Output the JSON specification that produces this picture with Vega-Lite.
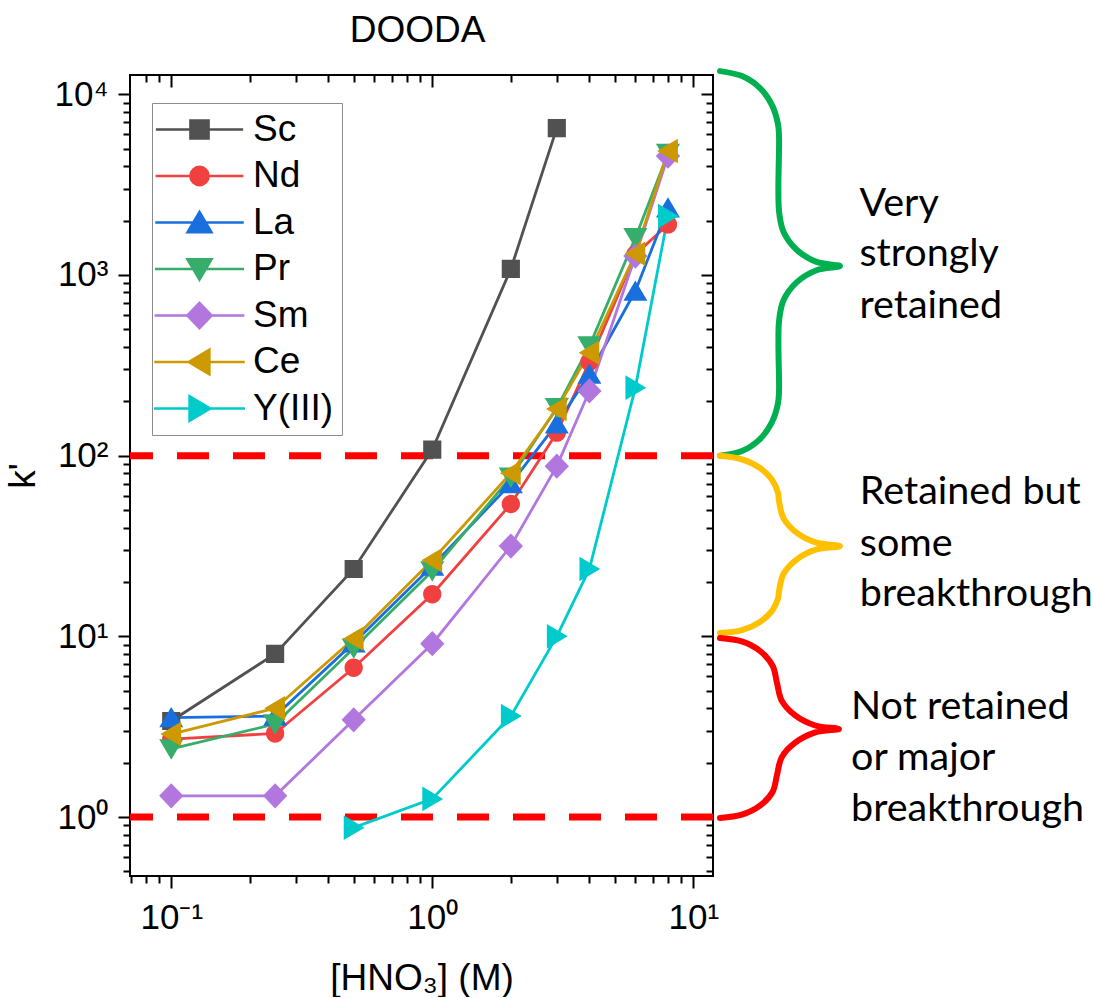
{
  "$schema": "https://vega.github.io/schema/vega-lite/v6.json",
  "background": "white",
  "padding": {"left": 3, "top": 11, "right": 0, "bottom": 0},
  "spacing": -11,
  "datasets": {
    "kdata": [
      {"s": "Sc", "x": 0.1, "k": 3.4}, {"s": "Sc", "x": 0.25, "k": 8.0}, {"s": "Sc", "x": 0.5, "k": 23.6}, {"s": "Sc", "x": 1, "k": 108}, {"s": "Sc", "x": 2, "k": 1080}, {"s": "Sc", "x": 3, "k": 6500},
      {"s": "Nd", "x": 0.1, "k": 2.7}, {"s": "Nd", "x": 0.25, "k": 2.9}, {"s": "Nd", "x": 0.5, "k": 6.7}, {"s": "Nd", "x": 1, "k": 17.1}, {"s": "Nd", "x": 2, "k": 54}, {"s": "Nd", "x": 3, "k": 134}, {"s": "Nd", "x": 4, "k": 330}, {"s": "Nd", "x": 6, "k": 1300}, {"s": "Nd", "x": 8, "k": 1905},
      {"s": "La", "x": 0.1, "k": 3.55}, {"s": "La", "x": 0.25, "k": 3.62}, {"s": "La", "x": 0.5, "k": 9.2}, {"s": "La", "x": 1, "k": 24.5}, {"s": "La", "x": 2, "k": 70}, {"s": "La", "x": 3, "k": 150}, {"s": "La", "x": 4, "k": 283}, {"s": "La", "x": 6, "k": 815}, {"s": "La", "x": 8, "k": 2355},
      {"s": "Pr", "x": 0.1, "k": 2.38}, {"s": "Pr", "x": 0.25, "k": 3.27}, {"s": "Pr", "x": 0.5, "k": 8.6}, {"s": "Pr", "x": 1, "k": 23}, {"s": "Pr", "x": 2, "k": 76}, {"s": "Pr", "x": 3, "k": 184}, {"s": "Pr", "x": 4, "k": 404}, {"s": "Pr", "x": 6, "k": 1607}, {"s": "Pr", "x": 8, "k": 4700},
      {"s": "Sm", "x": 0.1, "k": 1.31}, {"s": "Sm", "x": 0.25, "k": 1.31}, {"s": "Sm", "x": 0.5, "k": 3.45}, {"s": "Sm", "x": 1, "k": 9.1}, {"s": "Sm", "x": 2, "k": 31.6}, {"s": "Sm", "x": 3, "k": 87.5}, {"s": "Sm", "x": 4, "k": 228}, {"s": "Sm", "x": 6, "k": 1273}, {"s": "Sm", "x": 8, "k": 4550},
      {"s": "Ce", "x": 0.1, "k": 2.88}, {"s": "Ce", "x": 0.25, "k": 4.0}, {"s": "Ce", "x": 0.5, "k": 9.7}, {"s": "Ce", "x": 1, "k": 26.4}, {"s": "Ce", "x": 2, "k": 80}, {"s": "Ce", "x": 3, "k": 181}, {"s": "Ce", "x": 4, "k": 371}, {"s": "Ce", "x": 6, "k": 1310}, {"s": "Ce", "x": 8, "k": 4850},
      {"s": "Y(III)", "x": 0.5, "k": 0.873}, {"s": "Y(III)", "x": 1, "k": 1.26}, {"s": "Y(III)", "x": 2, "k": 3.62}, {"s": "Y(III)", "x": 3, "k": 10}, {"s": "Y(III)", "x": 4, "k": 23.6}, {"s": "Y(III)", "x": 6, "k": 238}, {"s": "Y(III)", "x": 8, "k": 2118}
    ],
    "thr": [{"k": 100}, {"k": 1}],
    "one": [{"x": 1, "k": 1}],
    "brace": [
      {"g": "a", "i": 0, "bx": 0, "by": 13440}, {"g": "a", "i": 1, "bx": 5.77, "by": 12610}, {"g": "a", "i": 2, "bx": 10.5, "by": 10820}, {"g": "a", "i": 3, "bx": 13.65, "by": 8714}, {"g": "a", "i": 4, "bx": 15.22, "by": 6841}, {"g": "a", "i": 5, "bx": 15.49, "by": 5870}, {"g": "a", "i": 6, "bx": 15.49, "by": 2257}, {"g": "a", "i": 7, "bx": 16.69, "by": 1728}, {"g": "a", "i": 8, "bx": 20.18, "by": 1375}, {"g": "a", "i": 9, "bx": 25.35, "by": 1182}, {"g": "a", "i": 10, "bx": 31.5, "by": 1120}, {"g": "a", "i": 11, "bx": 25.35, "by": 1062}, {"g": "a", "i": 12, "bx": 20.18, "by": 912.7}, {"g": "a", "i": 13, "bx": 16.69, "by": 726.3}, {"g": "a", "i": 14, "bx": 15.49, "by": 555.7}, {"g": "a", "i": 15, "bx": 15.49, "by": 227.8}, {"g": "a", "i": 16, "bx": 15.22, "by": 195.5}, {"g": "a", "i": 17, "bx": 13.65, "by": 153.5}, {"g": "a", "i": 18, "bx": 10.5, "by": 123.6}, {"g": "a", "i": 19, "bx": 5.77, "by": 106.1}, {"g": "a", "i": 20, "bx": 0, "by": 100},
      {"g": "b", "i": 0, "bx": 0, "by": 100}, {"g": "b", "i": 1, "bx": 5.77, "by": 95.5}, {"g": "b", "i": 2, "bx": 10.5, "by": 85.5}, {"g": "b", "i": 3, "bx": 13.65, "by": 73.5}, {"g": "b", "i": 4, "bx": 15.22, "by": 62.3}, {"g": "b", "i": 5, "bx": 15.49, "by": 56.1}, {"g": "b", "i": 6, "bx": 16.69, "by": 45.0}, {"g": "b", "i": 7, "bx": 20.18, "by": 37.4}, {"g": "b", "i": 8, "bx": 25.35, "by": 33.0}, {"g": "b", "i": 9, "bx": 31.5, "by": 31.6}, {"g": "b", "i": 10, "bx": 25.35, "by": 30.3}, {"g": "b", "i": 11, "bx": 20.18, "by": 26.7}, {"g": "b", "i": 12, "bx": 16.69, "by": 22.2}, {"g": "b", "i": 13, "bx": 15.49, "by": 17.8}, {"g": "b", "i": 14, "bx": 15.22, "by": 16.15}, {"g": "b", "i": 15, "bx": 13.65, "by": 13.84}, {"g": "b", "i": 16, "bx": 10.5, "by": 12.02}, {"g": "b", "i": 17, "bx": 5.77, "by": 10.83}, {"g": "b", "i": 18, "bx": 0, "by": 10.43},
      {"g": "c", "i": 0, "bx": 0, "by": 9.79}, {"g": "c", "i": 1, "bx": 5.72, "by": 9.37}, {"g": "c", "i": 2, "bx": 10.58, "by": 8.27}, {"g": "c", "i": 3, "bx": 13.83, "by": 6.87}, {"g": "c", "i": 4, "bx": 14.96, "by": 5.51}, {"g": "c", "i": 5, "bx": 16.19, "by": 4.41}, {"g": "c", "i": 6, "bx": 19.74, "by": 3.65}, {"g": "c", "i": 7, "bx": 25.01, "by": 3.21}, {"g": "c", "i": 8, "bx": 31.23, "by": 3.07}, {"g": "c", "i": 9, "bx": 25.01, "by": 2.94}, {"g": "c", "i": 10, "bx": 19.74, "by": 2.58}, {"g": "c", "i": 11, "bx": 16.19, "by": 2.14}, {"g": "c", "i": 12, "bx": 14.96, "by": 1.71}, {"g": "c", "i": 13, "bx": 13.83, "by": 1.38}, {"g": "c", "i": 14, "bx": 10.58, "by": 1.16}, {"g": "c", "i": 15, "bx": 5.72, "by": 1.03}, {"g": "c", "i": 16, "bx": 0, "by": 0.987}
    ],
    "notes": [
      {"t": "Very", "tx": 36.6, "ty": 2118}, {"t": "strongly", "tx": 36.6, "ty": 1120}, {"t": "retained", "tx": 36.6, "ty": 577},
      {"t": "Retained but", "tx": 36.7, "ty": 54.0}, {"t": "some", "tx": 36.7, "ty": 27.8}, {"t": "breakthrough", "tx": 36.7, "ty": 14.7},
      {"t": "Not retained", "tx": 34.4, "ty": 3.49}, {"t": "or major", "tx": 34.4, "ty": 1.82}, {"t": "breakthrough", "tx": 34.4, "ty": 0.95}
    ]
  },
  "hconcat": [
    {
      "width": 583,
      "height": 801,
      "title": {"text": "DOODA", "font": "Liberation Sans", "fontSize": 37, "fontWeight": "normal", "color": "black", "anchor": "middle", "baseline": "alphabetic", "offset": -5, "dx": -4},
      "view": {"stroke": "black", "strokeWidth": 2},
      "resolve": {"axis": {"x": "independent", "y": "independent"}},
      "layer": [
        {
          "data": {"name": "thr"},
          "mark": {"type": "rule", "color": "#ff0000", "strokeWidth": 7, "strokeDash": [32, 24]},
          "encoding": {
            "y": {"field": "k", "type": "quantitative", "scale": {"type": "log", "domain": [0.4716, 12790], "nice": false}, "axis": null}
          }
        },
        {
          "data": {"name": "kdata"},
          "mark": {"type": "line", "strokeWidth": 2.8},
          "encoding": {
            "x": {"field": "x", "type": "quantitative", "scale": {"type": "log", "domain": [0.0695, 11.9], "nice": false}, "axis": null},
            "y": {"field": "k", "type": "quantitative", "scale": {"type": "log", "domain": [0.4716, 12790], "nice": false}, "axis": null},
            "color": {
              "field": "s", "type": "nominal",
              "scale": {"domain": ["Sc", "Nd", "La", "Pr", "Sm", "Ce", "Y(III)"], "range": ["#515151", "#F14040", "#1A6FDF", "#37AD6B", "#B177DE", "#CC9900", "#00CBCC"]},
              "legend": {"title": null, "orient": "none", "legendX": 22, "legendY": 28, "direction": "vertical", "padding": 8, "strokeColor": "#8c8c8c", "fillColor": "white", "labelFont": "Liberation Sans", "labelFontSize": 37, "labelColor": "black", "symbolSize": 324, "symbolOffset": 21, "labelOffset": 35, "rowPadding": 8.5, "symbolStrokeWidth": 2.5}
            }
          }
        },
        {
          "data": {"name": "kdata"},
          "mark": {"type": "point", "filled": true, "opacity": 1},
          "encoding": {
            "x": {"field": "x", "type": "quantitative", "scale": {"type": "log", "domain": [0.0695, 11.9], "nice": false},
              "axis": {"orient": "bottom", "values": [0.1, 1, 10], "labelExpr": "datum.value < 0.5 ? '10⁻¹' : datum.value < 5 ? '10⁰' : '10¹'", "labelFontSize": 35, "labelPadding": 12, "tickSize": 12, "title": "[HNO₃] (M)", "titleFontSize": 37, "titlePadding": 25}},
            "y": {"field": "k", "type": "quantitative", "scale": {"type": "log", "domain": [0.4716, 12790], "nice": false},
              "axis": {"orient": "left", "values": [1, 10, 100, 1000, 10000], "labelExpr": "datum.value >= 5000 ? '10⁴' : datum.value >= 500 ? '10³' : datum.value >= 50 ? '10²' : datum.value >= 5 ? '10¹' : '10⁰'", "labelFontSize": 35, "labelPadding": 10, "tickSize": 12, "title": "k'", "titleFontSize": 37, "titlePadding": 12}},
            "color": {
              "field": "s", "type": "nominal",
              "scale": {"domain": ["Sc", "Nd", "La", "Pr", "Sm", "Ce", "Y(III)"], "range": ["#515151", "#F14040", "#1A6FDF", "#37AD6B", "#B177DE", "#CC9900", "#00CBCC"]}
            },
            "shape": {
              "field": "s", "type": "nominal",
              "scale": {"domain": ["Sc", "Nd", "La", "Pr", "Sm", "Ce", "Y(III)"], "range": ["M-4.8,0H4.8M-1,-1H1V1H-1Z", "M-4.8,0H4.8M1,0A1,1,0,1,1,-1,0A1,1,0,1,1,1,0Z", "M-4.8,0H4.8M0,-1.15L1.3,1.05H-1.3Z", "M-4.8,0H4.8M0,1.15L1.3,-1.05H-1.3Z", "M-4.8,0H4.8M0,-1.35L1.3,0L0,1.35L-1.3,0Z", "M-4.8,0H4.8M-1.15,0L1.05,-1.3V1.3Z", "M-4.8,0H4.8M1.15,0L-1.05,-1.3V1.3Z"]}
            },
            "size": {
              "field": "s", "type": "nominal",
              "scale": {"domain": ["Sc", "Nd", "La", "Pr", "Sm", "Ce", "Y(III)"], "range": [330, 360, 400, 400, 400, 400, 400]},
              "legend": null
            }
          }
        },
        {
          "data": {"name": "one"},
          "mark": {"type": "point", "opacity": 0},
          "encoding": {
            "x": {"field": "x", "type": "quantitative", "scale": {"type": "log", "domain": [0.0695, 11.9], "nice": false},
              "axis": {"orient": "bottom", "values": [0.07, 0.08, 0.09, 0.2, 0.3, 0.4, 0.5, 0.6, 0.7, 0.8, 0.9, 2, 3, 4, 5, 6, 7, 8, 9], "labels": false, "tickSize": 7, "title": null}},
            "y": {"field": "k", "type": "quantitative", "scale": {"type": "log", "domain": [0.4716, 12790], "nice": false},
              "axis": {"orient": "left", "values": [0.5, 0.6, 0.7, 0.8, 0.9, 2, 3, 4, 5, 6, 7, 8, 9, 20, 30, 40, 50, 60, 70, 80, 90, 200, 300, 400, 500, 600, 700, 800, 900, 2000, 3000, 4000, 5000, 6000, 7000, 8000, 9000], "labels": false, "tickSize": 7, "title": null}}
          }
        },
        {
          "data": {"name": "one"},
          "mark": {"type": "point", "opacity": 0},
          "encoding": {
            "x": {"field": "x", "type": "quantitative", "scale": {"type": "log", "domain": [0.0695, 11.9], "nice": false},
              "axis": {"orient": "top", "values": [0.1, 1, 10], "labels": false, "tickSize": -12, "title": null, "minExtent": 0, "maxExtent": 0}},
            "y": {"field": "k", "type": "quantitative", "scale": {"type": "log", "domain": [0.4716, 12790], "nice": false},
              "axis": {"orient": "right", "values": [1, 10, 100, 1000, 10000], "labels": false, "tickSize": -12, "title": null, "minExtent": 0, "maxExtent": 0}}
          }
        },
        {
          "data": {"name": "one"},
          "mark": {"type": "point", "opacity": 0},
          "encoding": {
            "x": {"field": "x", "type": "quantitative", "scale": {"type": "log", "domain": [0.0695, 11.9], "nice": false},
              "axis": {"orient": "top", "values": [0.08, 0.09, 0.2, 0.3, 0.4, 0.5, 0.6, 0.7, 0.8, 0.9, 2, 3, 4, 5, 6, 7, 8, 9], "labels": false, "tickSize": -7, "title": null, "minExtent": 0, "maxExtent": 0}},
            "y": {"field": "k", "type": "quantitative", "scale": {"type": "log", "domain": [0.4716, 12790], "nice": false},
              "axis": {"orient": "right", "values": [0.5, 0.6, 0.7, 0.8, 0.9, 2, 3, 4, 5, 6, 7, 8, 9, 20, 30, 40, 50, 60, 70, 80, 90, 200, 300, 400, 500, 600, 700, 800, 900, 2000, 3000, 4000, 5000, 6000, 7000, 8000, 9000], "labels": false, "tickSize": -7, "title": null, "minExtent": 0, "maxExtent": 0}}
          }
        }
      ]
    },
    {
      "width": 381,
      "height": 801,
      "view": {"stroke": null},
      "layer": [
        {
          "data": {"name": "brace"},
          "mark": {"type": "line", "strokeWidth": 6, "interpolate": "catmull-rom", "strokeCap": "round", "strokeJoin": "round"},
          "encoding": {
            "x": {"field": "bx", "type": "quantitative", "scale": {"domain": [0, 100], "nice": false, "zero": false}, "axis": null},
            "y": {"field": "by", "type": "quantitative", "scale": {"type": "log", "domain": [0.4716, 12790], "nice": false}, "axis": null},
            "stroke": {"field": "g", "type": "nominal", "scale": {"domain": ["a", "b", "c"], "range": ["#00B050", "#FFC000", "#FF0000"]}, "legend": null},
            "order": {"field": "i", "type": "quantitative"}
          }
        },
        {
          "data": {"name": "notes"},
          "mark": {"type": "text", "align": "left", "baseline": "alphabetic", "font": "Lato", "fontSize": 39.5, "color": "black"},
          "encoding": {
            "x": {"field": "tx", "type": "quantitative", "scale": {"domain": [0, 100], "nice": false, "zero": false}, "axis": null},
            "y": {"field": "ty", "type": "quantitative", "scale": {"type": "log", "domain": [0.4716, 12790], "nice": false}, "axis": null},
            "text": {"field": "t"}
          }
        }
      ]
    }
  ],
  "config": {
    "view": {"stroke": null},
    "font": "Liberation Sans",
    "axis": {"domain": false, "grid": false, "tickColor": "black", "tickWidth": 2, "labelColor": "black", "titleColor": "black", "labelFont": "Liberation Sans", "titleFont": "Liberation Sans", "titleFontWeight": "normal", "labelFlush": false, "labelOverlap": false}
  }
}
